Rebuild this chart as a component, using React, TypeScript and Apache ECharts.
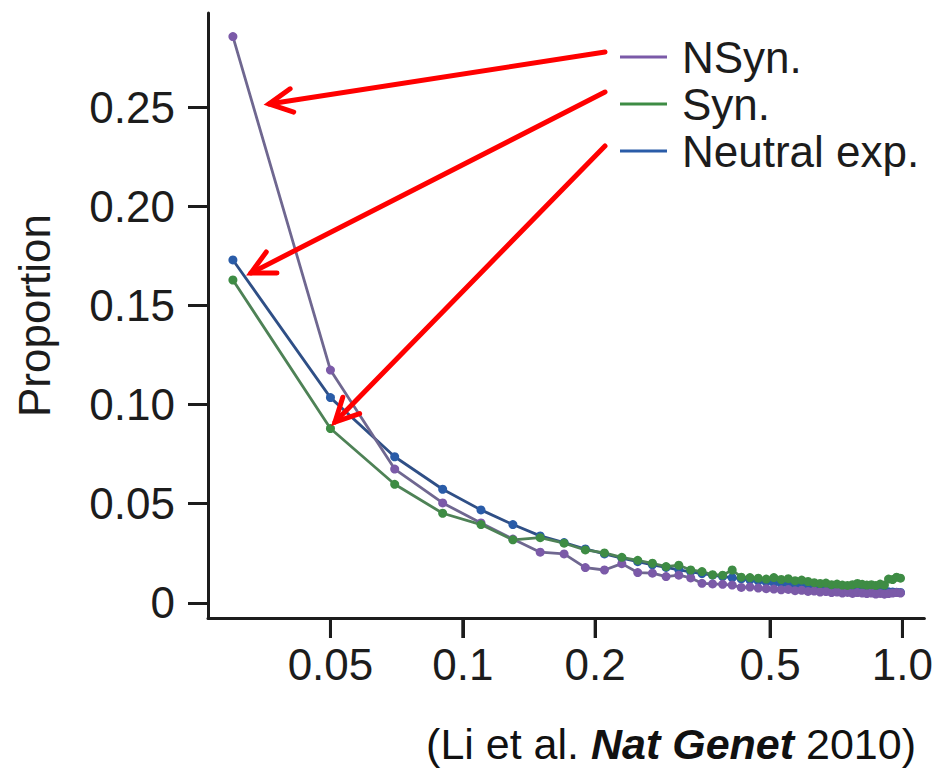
import React, { useEffect, useRef } from "react";
import * as echarts from "echarts";

// Derived allele frequency bins (bin centres)
const freqs = [
  0.03, 0.05, 0.07, 0.09, 0.11, 0.13, 0.15, 0.17, 0.19, 0.21,
  0.23, 0.25, 0.27, 0.29, 0.31, 0.33, 0.35, 0.37, 0.39, 0.41,
  0.43, 0.45, 0.47, 0.49, 0.51, 0.53, 0.55, 0.57, 0.59, 0.61,
  0.63, 0.65, 0.67, 0.69, 0.71, 0.73, 0.75, 0.77, 0.79, 0.81,
  0.83, 0.85, 0.87, 0.89, 0.91, 0.93, 0.95, 0.97, 0.99,
];

const nsyn = [
  0.2855, 0.1174, 0.0675, 0.0504, 0.0403, 0.0322, 0.0256, 0.0247, 0.0178, 0.0166,
  0.0198, 0.0153, 0.0150, 0.0133, 0.0140, 0.0126, 0.0099, 0.0096, 0.0094, 0.0090,
  0.0078, 0.0080, 0.0075, 0.0072, 0.0070, 0.0066, 0.0068, 0.0062, 0.0064, 0.0058,
  0.0060, 0.0055, 0.0057, 0.0052, 0.0055, 0.0050, 0.0053, 0.0048, 0.0052, 0.0050,
  0.0047, 0.0050, 0.0045, 0.0048, 0.0044, 0.0047, 0.0050, 0.0052, 0.0050,
];

const syn = [
  0.1628, 0.0879, 0.0598, 0.0452, 0.0395, 0.0318, 0.0329, 0.0301, 0.0267, 0.0252,
  0.0230, 0.0215, 0.0200, 0.0183, 0.0190, 0.0166, 0.0158, 0.0142, 0.0140, 0.0166,
  0.0130, 0.0128, 0.0125, 0.0120, 0.0128, 0.0118, 0.0122, 0.0112, 0.0115, 0.0108,
  0.0102, 0.0098, 0.0100, 0.0092, 0.0095, 0.0090, 0.0088, 0.0092, 0.0098, 0.0094,
  0.0090, 0.0092, 0.0088, 0.0095, 0.0090, 0.0120, 0.0118, 0.0130, 0.0125,
];

const neutral = [
  0.1729, 0.1035, 0.0737, 0.0573, 0.0469, 0.0395, 0.0338, 0.0304, 0.0272, 0.0247,
  0.0226, 0.0208, 0.0192, 0.0179, 0.0167, 0.0157, 0.0148, 0.0140, 0.0133, 0.0127,
  0.0121, 0.0115, 0.0110, 0.0106, 0.0102, 0.0098, 0.0094, 0.0091, 0.0088, 0.0085,
  0.0082, 0.0080, 0.0077, 0.0075, 0.0073, 0.0071, 0.0069, 0.0067, 0.0066, 0.0064,
  0.0062, 0.0061, 0.0060, 0.0058, 0.0057, 0.0056, 0.0055, 0.0054, 0.0053,
];

const seriesNames = ["NSyn.", "Syn.", "Neutral exp."];
const xTickValues = [0.05, 0.1, 0.2, 0.5, 1.0];
const xTickLabels = ["0.05", "0.1", "0.2", "0.5", "1.0"];
const yTickValues = [0, 0.05, 0.1, 0.15, 0.2, 0.25];
const yTickLabels = ["0", "0.05", "0.10", "0.15", "0.20", "0.25"];

const X_MIN = 0.02633;
const X_MAX = 1.122;
const Y_MIN = -0.0076;
const Y_MAX = 0.2974;

const FONT = "'Liberation Sans', Arial, Helvetica, sans-serif";
const AXIS_COLOR = "#1c1c1c";

function arrow(sx: number, sy: number, tx: number, ty: number) {
  const a = Math.atan2(sy - ty, sx - tx);
  const L = 26;
  const th = 0.47;
  const style = { stroke: "#ff0000", lineWidth: 5, lineCap: "round", lineJoin: "miter", fill: null };
  return [
    { type: "line", silent: true, z: 100, shape: { x1: sx, y1: sy, x2: tx, y2: ty }, style },
    {
      type: "polyline",
      silent: true,
      z: 100,
      shape: {
        points: [
          [tx + L * Math.cos(a + th), ty + L * Math.sin(a + th)],
          [tx, ty],
          [tx + L * Math.cos(a - th), ty + L * Math.sin(a - th)],
        ],
      },
      style,
    },
  ];
}

export default function App() {
  const ref = useRef<HTMLDivElement>(null);

  useEffect(() => {
    if (!ref.current) return;
    const chart = echarts.init(ref.current, undefined, { renderer: "svg" });

    const mk = (name: string, ys: number[], lineColor: string, dotColor: string) => ({
      name,
      type: "line",
      xAxisIndex: 1,
      yAxisIndex: 0,
      data: freqs.map((f, i) => [f, ys[i]]),
      symbol: "circle",
      symbolSize: 9,
      showSymbol: true,
      lineStyle: { color: lineColor, width: 2.8 },
      itemStyle: { color: dotColor },
      emphasis: { disabled: true },
    });

    const logTicks = xTickValues.map((v) => Math.log10(v));

    const option = {
      animation: false,
      grid: { left: 208, right: 11, top: 13, bottom: 150, containLabel: false },
      legend: {
        data: seriesNames,
        left: 615,
        top: 30,
        orient: "vertical",
        icon: "rect",
        itemWidth: 47,
        itemHeight: 3,
        itemGap: 3,
        textStyle: {
          fontSize: 44,
          lineHeight: 44,
          color: "#1c1c1c",
          fontFamily: FONT,
          padding: [0, 0, 0, 10],
        },
      },
      xAxis: [
        {
          type: "value",
          min: Math.log10(X_MIN),
          max: Math.log10(X_MAX),
          position: "bottom",
          axisLine: { show: true, onZero: false, lineStyle: { color: AXIS_COLOR, width: 3 } },
          axisTick: {
            show: true,
            length: 20,
            customValues: logTicks,
            lineStyle: { color: AXIS_COLOR, width: 3 },
          },
          axisLabel: {
            show: true,
            margin: 24,
            fontSize: 44,
            color: "#1c1c1c",
            fontFamily: FONT,
            customValues: logTicks,
            formatter: (v: number) => {
              let best = 0;
              let d = Infinity;
              logTicks.forEach((t, i) => {
                const dd = Math.abs(t - v);
                if (dd < d) {
                  d = dd;
                  best = i;
                }
              });
              return xTickLabels[best];
            },
          },
          splitLine: { show: false },
        },
        {
          type: "log",
          logBase: 10,
          min: X_MIN,
          max: X_MAX,
          position: "bottom",
          axisLine: { show: false, onZero: false },
          axisTick: { show: false },
          axisLabel: { show: false },
          splitLine: { show: false },
          minorTick: { show: false },
        },
      ],
      yAxis: {
        type: "value",
        min: Y_MIN,
        max: Y_MAX,
        name: "Proportion",
        nameLocation: "middle",
        nameGap: 152,
        nameTextStyle: { fontSize: 44, color: "#1c1c1c", fontFamily: FONT },
        axisLine: { show: true, onZero: false, lineStyle: { color: AXIS_COLOR, width: 3 } },
        axisTick: {
          show: true,
          length: 20,
          customValues: yTickValues,
          lineStyle: { color: AXIS_COLOR, width: 3 },
        },
        axisLabel: {
          show: true,
          margin: 33,
          fontSize: 44,
          color: "#1c1c1c",
          fontFamily: FONT,
          customValues: yTickValues,
          formatter: (v: number) => {
            const i = yTickValues.findIndex((t) => Math.abs(t - v) < 1e-9);
            return i >= 0 ? yTickLabels[i] : "";
          },
        },
        splitLine: { show: false },
      },
      series: [
        mk(seriesNames[2], neutral, "#2f4f86", "#2a5ca8"),
        mk(seriesNames[0], nsyn, "#6f6790", "#7b5aa8"),
        mk(seriesNames[1], syn, "#4e8256", "#3e8c44"),
      ],
    };

    chart.setOption(option as any);

    // x tick marks, positioned through the log axis' own scale
    const axisY = Number(chart.convertToPixel({ yAxisIndex: 0 }, Y_MIN));
    const tickRects = xTickValues.map((v) => {
      const px = Number(chart.convertToPixel({ xAxisIndex: 1 }, v));
      return {
        type: "rect",
        z: 1000,
        shape: { x: px - 1.5, y: axisY, width: 3, height: 20 },
        style: { fill: AXIS_COLOR },
      };
    });

    chart.setOption({
      graphic: [
        ...tickRects,
        ...arrow(605, 52, 269, 104),
        ...arrow(605, 92, 251, 273),
        ...arrow(605, 146, 335, 422),
        {
          type: "text",
          right: 20,
          top: 722,
          style: {
            text: "(Li et al. {b|Nat Genet} 2010)",
            fontSize: 43,
            fontFamily: FONT,
            fill: "#111111",
            rich: {
              b: { fontSize: 43, fontFamily: FONT, fontWeight: "bold", fontStyle: "italic", fill: "#111111" },
            },
          },
        },
      ],
    } as any);

    return () => chart.dispose();
  }, []);

  return (
    <div
      ref={ref}
      style={{ position: "fixed", left: 0, top: 0, width: 936, height: 768, background: "#fff" }}
    />
  );
}
